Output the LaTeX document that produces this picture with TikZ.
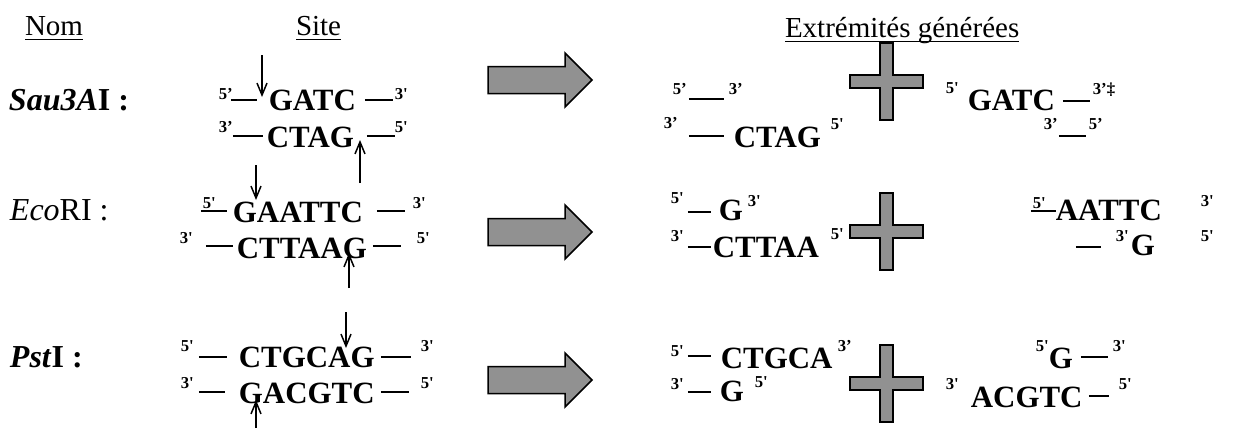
\documentclass[tikz,border=0pt]{standalone}
\usepackage{fontspec}
\newfontfamily\tnr{Liberation Serif}
\usetikzlibrary{arrows.meta}
\usepackage{xcolor}
\definecolor{BlockGray}{RGB}{145,145,145}
\newlength\px \setlength\px{0.02cm}
% piece of a strand at an x offset, prime label (x, raise), bond dash (x, width, height)
\newcommand\pc[2]{\rlap{\hspace*{#1\px}#2}}
\newcommand\pr[3]{\pc{#1}{\raisebox{#2\px}{\fontsize{9.5}{10}\selectfont #3}}}
\newcommand\bd[3]{\pc{#1}{\rule[#3\px]{#2\px}{1.8\px}}}
\newcommand\ul[1]{\setbox0\hbox{#1}\rlap{\rule[-5\px]{\wd0}{1.5\px}}\box0}

\begin{document}
\begin{tikzpicture}[x=0.02cm,y=-0.02cm,
head/.style={anchor=base west,inner sep=0,outer sep=0,font=\tnr\fontsize{16.5}{18}\selectfont},
enz/.style={anchor=base west,inner sep=0,outer sep=0,font=\tnr\fontsize{18.2}{20}\selectfont},
dna/.style={anchor=base west,inner sep=0,outer sep=0,font=\tnr\bfseries\fontsize{17.6}{20}\selectfont},
cut/.style={-{Straight Barb[length=2.4mm,width=2mm]},line width=0.85pt},
blk/.style={fill=BlockGray,draw=black,line width=0.85pt},
blockarrow/.pic={\draw[blk] (0,-13.5) -- (77,-13.5) -- (77,-27) -- (104,0) -- (77,27) -- (77,13.5) -- (0,13.5) -- cycle;},
plussign/.pic={\draw[blk] (-6.5,-38.5) -- (-6.5,-6.5) -- (-36.5,-6.5) -- (-36.5,6.5) -- (-6.5,6.5) -- (-6.5,38.5)
  -- (6.5,38.5) -- (6.5,6.5) -- (36.5,6.5) -- (36.5,-6.5) -- (6.5,-6.5) -- (6.5,-38.5) -- cycle;}
]
\useasboundingbox (0,0) rectangle (1246,430);

% headings
\node[head] (hnom) at (25,35) {\ul{Nom}};
\node[head] (hsite) at (296,35) {\ul{Site}};
\node[head] (hext) at (785,37) {\ul{Extrémités générées}};

% enzymes
\node[enz] (sau) at (9,110) {\textbf{\textit{Sau3A}I :}};
\node[enz] (eco) at (10,220) {\textit{Eco}RI :};
\node[enz] (pst) at (10,367) {\textbf{\textit{Pst}I :}};

% sites
\node[dna] (s1a) at (218,110) {\pr{0}{11}{5’}\bd{12}{26}{9}\pc{50}{GATC}\bd{146}{28}{9}\pr{176}{11}{3'}};
\node[dna] (s1b) at (218,147) {\pr{0}{15}{3’}\bd{14}{30}{10}\pc{48}{CTAG}\bd{148}{28}{10}\pr{176}{15}{5'}};
\node[dna] (s2a) at (200,222) {\pr{2}{14}{5'}\bd{0}{26}{10}\pc{32}{GAATTC}\bd{176}{28}{10}\pr{212}{14}{3'}};
\node[dna] (s2b) at (179,258) {\pr{0}{15}{3'}\bd{26}{27}{11}\pc{57}{CTTAAG}\bd{193}{28}{11}\pr{237}{15}{5'}};
\node[dna] (s3a) at (180,367) {\pr{0}{16}{5'}\bd{18}{28}{9}\pc{58}{CTGCAG}\bd{200}{30}{9}\pr{240}{16}{3'}};
\node[dna] (s3b) at (180,403) {\pr{0}{15}{3'}\bd{18}{26}{10}\pc{58}{GACGTC}\bd{200}{28}{10}\pr{240}{15}{5'}};

% cleavage points
\coordinate (c1a) at (262,55); \coordinate (c1b) at (262,97);
\coordinate (c2a) at (360,183); \coordinate (c2b) at (360,140);
\coordinate (c3a) at (256,165); \coordinate (c3b) at (256,200);
\coordinate (c4a) at (349,288); \coordinate (c4b) at (349,253);
\coordinate (c5a) at (346,312); \coordinate (c5b) at (346,348);
\coordinate (c6a) at (256,428); \coordinate (c6b) at (256,400);
\draw[cut] (c1a) -- (c1b); \draw[cut] (c2a) -- (c2b);
\draw[cut] (c3a) -- (c3b); \draw[cut] (c4a) -- (c4b);
\draw[cut] (c5a) -- (c5b); \draw[cut] (c6a) -- (c6b);

% big arrows and plus signs
\pic (a1) at (488,80) {blockarrow};
\pic (a2) at (488,232) {blockarrow};
\pic (a3) at (488,380) {blockarrow};
\pic (p1) at (886.5,81.5) {plussign};
\pic (p2) at (886.5,231.5) {plussign};
\pic (p3) at (886.5,383.5) {plussign};

% generated ends
\node[dna] (f1a) at (672,110) {\pr{0}{16}{5’}\bd{16}{35}{10}\pr{56}{16}{3’}};
\node[dna] (f1b) at (663,147) {\pr{0}{19}{3’}\bd{25}{35}{10}\pc{70}{CTAG}\pr{167}{18}{5'}};
\node[dna] (g1a) at (945,110) {\pr{0}{17}{5'}\pc{22}{GATC}\bd{117}{27}{8}\pr{147}{16}{3’‡}};
\node[dna] (g1b) at (1043,147) {\pr{0}{18}{3’}\bd{15}{27}{10}\pr{45}{18}{5’}};

\node[dna] (f2a) at (670,220) {\pr{0}{17}{5'}\bd{17}{23}{7}\pc{48}{G}\pr{77}{14}{3'}};
\node[dna] (f2b) at (670,257) {\pr{0}{16}{3'}\bd{17}{23}{9}\pc{42}{CTTAA}\pr{160}{18}{5'}};
\node[dna] (g2a) at (1030,220) {\bd{0}{25}{8}\pr{2}{12}{5'}\pc{25}{AATTC}\pr{170}{14}{3'}};
\node[dna] (g2b) at (1075,255) {\bd{0}{25}{7}\pr{40}{14}{3'}\pc{55}{G}\pr{125}{14}{5'}};

\node[dna] (f3a) at (670,368) {\pr{0}{12}{5'}\bd{17}{23}{11}\pc{50}{CTGCA}\pr{167}{17}{3’}};
\node[dna] (f3b) at (670,401) {\pr{0}{12}{3'}\bd{17}{23}{8}\pc{49}{G}\pr{84}{14}{5'}};
\node[dna] (g3a) at (1035,368) {\pr{0}{17}{5'}\pc{13}{G}\bd{45}{27}{10}\pr{77}{17}{3'}};
\node[dna] (g3b) at (945,407) {\pr{0}{18}{3'}\pc{25}{ACGTC}\bd{143}{20}{10}\pr{173}{18}{5'}};
\end{tikzpicture}
\end{document}
